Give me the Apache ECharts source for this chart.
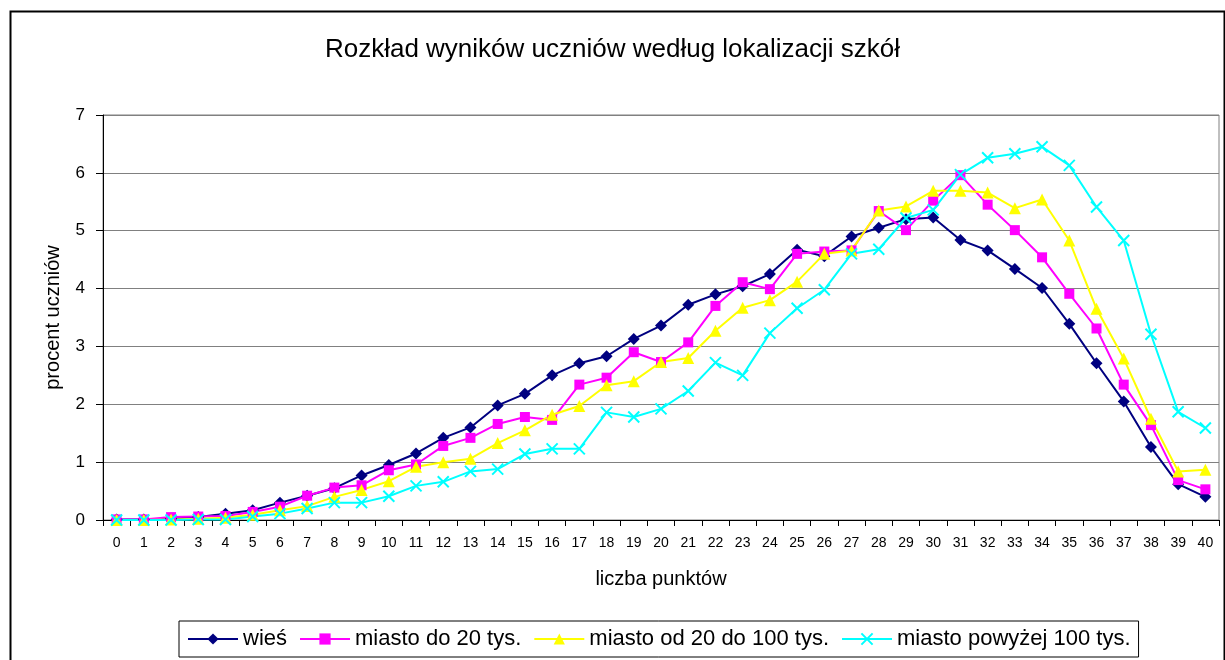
<!DOCTYPE html>
<html>
<head>
<meta charset="utf-8">
<script src="https://cdn.jsdelivr.net/npm/echarts@6/dist/echarts.min.js"></script>
<style>
html,body{margin:0;padding:0;background:#fff;}
#chart{width:1225px;height:660px;}
</style>
</head>
<body>
<div id="chart"></div>
<script>
const titleText = 'Rozkład wyników uczniów według lokalizacji szkół';
const xName = 'liczba punktów';
const yName = 'procent uczniów';
const categories = ['0','1','2','3','4','5','6','7','8','9','10','11','12','13','14','15','16','17','18','19','20','21','22','23','24','25','26','27','28','29','30','31','32','33','34','35','36','37','38','39','40'];
const seriesNames = ['wieś', 'miasto do 20 tys.', 'miasto od 20 do 100 tys.', 'miasto powyżej 100 tys.'];
const wies = [0.01,0.01,0.02,0.05,0.11,0.17,0.30,0.42,0.55,0.77,0.95,1.15,1.42,1.60,1.98,2.18,2.50,2.71,2.83,3.13,3.36,3.72,3.90,4.04,4.25,4.67,4.56,4.90,5.05,5.20,5.23,4.84,4.66,4.34,4.01,3.39,2.71,2.05,1.26,0.62,0.40];
const miastoDo20 = [0.01,0.01,0.05,0.06,0.07,0.14,0.23,0.42,0.56,0.60,0.86,0.96,1.28,1.42,1.66,1.78,1.73,2.34,2.46,2.90,2.73,3.07,3.70,4.11,3.99,4.60,4.64,4.66,5.34,5.01,5.52,5.96,5.45,5.01,4.54,3.91,3.31,2.34,1.64,0.69,0.53];
const miasto20do100 = [0.0,0.0,0.01,0.02,0.04,0.09,0.17,0.24,0.40,0.52,0.67,0.92,1.00,1.06,1.33,1.55,1.82,1.97,2.33,2.40,2.73,2.80,3.27,3.67,3.80,4.12,4.60,4.66,5.35,5.42,5.69,5.69,5.66,5.39,5.54,4.83,3.65,2.79,1.75,0.84,0.87];
const miastoPow100 = [0.0,0.0,0.0,0.01,0.01,0.06,0.11,0.20,0.30,0.30,0.41,0.59,0.66,0.84,0.88,1.14,1.23,1.23,1.86,1.78,1.92,2.23,2.72,2.50,3.23,3.66,3.98,4.60,4.68,5.22,5.36,5.97,6.26,6.33,6.45,6.13,5.41,4.83,3.21,1.87,1.59];
const yTicks = [0,1,2,3,4,5,6,7];

const font = 'Liberation Sans, Arial, sans-serif';
const chart = echarts.init(document.getElementById('chart'), null, {renderer:'canvas'});

function mk(name, data, color, symbol, size, extra) {
  return Object.assign({
    name: name, type: 'line', data: data,
    symbol: symbol, symbolSize: size,
    lineStyle: {color: color, width: 2},
    itemStyle: {color: color},
    emphasis: {disabled: true},
    animation: false
  }, extra || {});
}
const xPath = 'path://M0,0L10,10M10,0L0,10';

chart.setOption({
  animation: false,
  backgroundColor: '#fff',
  textStyle: {fontFamily: font, color: '#000'},
  title: {
    text: titleText, left: 'center', top: 32,
    textStyle: {fontFamily: font, fontSize: 26, fontWeight: 'normal', color: '#000'}
  },
  graphic: [{
    type: 'rect', left: 8, top: 9, silent: true, z: 100,
    shape: {width: 1214, height: 700},
    style: {fill: 'none', stroke: '#000', lineWidth: 2}
  }],
  grid: {
    left: 103, right: 6, top: 115, bottom: 140,
    show: true, borderColor: '#808080', borderWidth: 1, backgroundColor: 'transparent'
  },
  legend: {
    left: 179, top: 621,
    padding: [7, 8, 7, 8],
    itemGap: 12, itemWidth: 50, itemHeight: 14,
    borderColor: '#000', borderWidth: 1,
    textStyle: {fontFamily: font, fontSize: 22, color: '#000'},
    data: seriesNames
  },
  xAxis: {
    type: 'category', data: categories, boundaryGap: true,
    name: xName, nameLocation: 'middle', nameGap: 49,
    nameTextStyle: {fontFamily: font, fontSize: 20, color: '#000'},
    axisLine: {lineStyle: {color: '#000', width: 1}},
    axisTick: {show: true, interval: 0, length: 6, lineStyle: {color: '#000'}},
    axisLabel: {interval: 0, fontSize: 14, margin: 16, color: '#000', fontFamily: font},
    splitLine: {show: false}
  },
  yAxis: {
    type: 'value', min: 0, max: 7, interval: 1,
    name: yName, nameLocation: 'middle', nameGap: 40, nameRotate: 90,
    nameTextStyle: {fontFamily: font, fontSize: 20, color: '#000'},
    axisLine: {show: true, lineStyle: {color: '#000', width: 1}},
    axisTick: {show: true, length: 7, lineStyle: {color: '#000'}},
    axisLabel: {fontSize: 17, margin: 18, color: '#000', fontFamily: font,
      formatter: function(v){ return yTicks.indexOf(v) >= 0 ? String(v) : ''; }},
    splitLine: {show: true, lineStyle: {color: '#808080', width: 1}}
  },
  series: [
    mk(seriesNames[0], wies, '#000080', 'diamond', 12),
    mk(seriesNames[1], miastoDo20, '#FF00FF', 'rect', 10),
    mk(seriesNames[2], miasto20do100, '#FFFF00', 'triangle', 12),
    mk(seriesNames[3], miastoPow100, '#00FFFF', xPath, 11,
      {itemStyle: {color: 'rgba(0,0,0,0)', borderColor: '#00FFFF', borderWidth: 2}})
  ]
});
</script>
</body>
</html>
